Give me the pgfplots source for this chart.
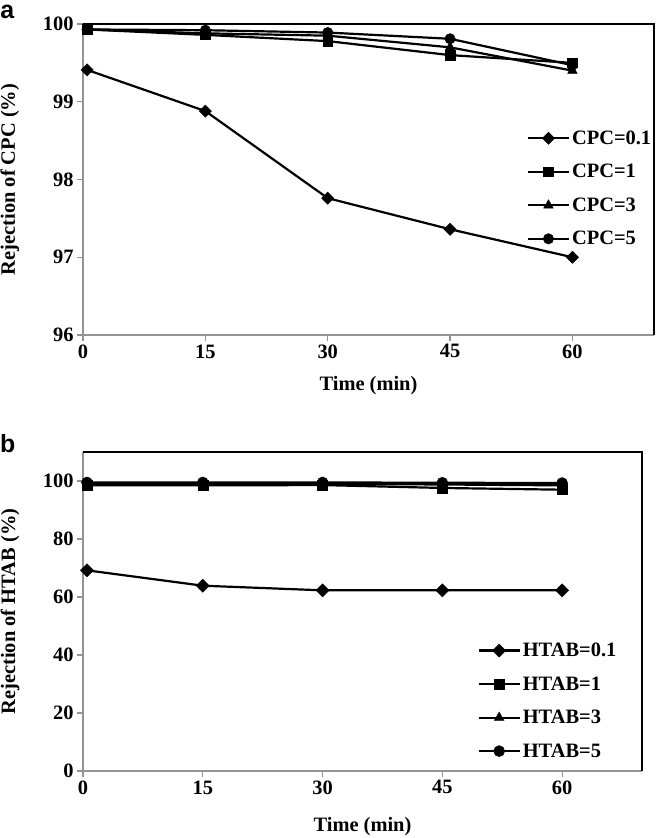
\documentclass[border=0pt]{standalone}
\usepackage{pgfplots}
\pgfplotsset{compat=1.18}
\usepackage{fontspec}
\setmainfont{Liberation Serif}
\newfontfamily\arialfont{Liberation Sans}

\pgfplotsset{
  panel/.style={
    scale only axis,
    xmin=0, xmax=70,
    xtick={0,15,30,45,60},
    axis x line*=bottom, axis y line*=left,
    axis line style={-, draw=gray!85, line width=1.4bp},
    tick align=outside,
    major tick length=6bp,
    tick style={draw=gray!85, line width=1.2bp},
    tick label style={font=\fontsize{20.5}{20.5}\selectfont\bfseries},
    label style={font=\fontsize{20.5}{20.5}\selectfont\bfseries},
    /pgf/number format/assume math mode=true,
    legend style={draw=none, fill=none, font=\fontsize{20.5}{20.5}\selectfont\bfseries,
      anchor=north west, inner sep=0pt, row sep=14.5bp,
      nodes={inner sep=2bp}},
    legend cell align=left,
    legend image code/.code={\draw[mark repeat=2,mark phase=2,line width=2.2bp,##1] plot coordinates {(0bp,0bp) (20.5bp,0bp) (41bp,0bp)};},
    clip=false,
    every axis plot/.append style={black, line width=2.2bp, mark options={solid, fill=black, line width=0.5bp}},
    dia/.style={mark=square*, mark options={rotate=45, solid, fill=black, line width=0.5bp}},
  },
}

\begin{document}
\begin{tikzpicture}
\path[use as bounding box] (0bp,0bp) rectangle (657bp,-838bp);

% ---------- panel a ----------
\begin{axis}[panel,
  at={(83bp,-335bp)}, anchor=south west,
  width=571bp, height=311bp,
  ymin=96, ymax=100, ytick={96,97,98,99,100},
  xlabel={Time (min)}, ylabel={Rejection of CPC (\%)},
  ylabel style={at={(axis description cs:-0.128,0.5)}, anchor=center},
  xlabel style={at={(axis description cs:0.5,-0.164)}, anchor=center},
  legend style={at={(axis description cs:0.777,0.664)}},
]
\addplot[dia, mark size=4.3bp] coordinates {(0.5,99.41) (15,98.88) (30,97.76) (45,97.36) (60,97.0)};
\addlegendentry{CPC=0.1}
\addplot[mark=square*, mark size=4.8bp] coordinates {(0.5,99.93) (15,99.86) (30,99.78) (45,99.6) (60,99.5)};
\addlegendentry{CPC=1}
\addplot[mark=triangle*, mark size=5.5bp] coordinates {(0.5,99.93) (15,99.88) (30,99.85) (45,99.7) (60,99.4)};
\addlegendentry{CPC=3}
\addplot[mark=*, mark size=5.2bp] coordinates {(0.5,99.93) (15,99.92) (30,99.89) (45,99.81) (60,99.47)};
\addlegendentry{CPC=5}
\draw[black, line width=2bp] (rel axis cs:0,1) -- (rel axis cs:1,1) -- (rel axis cs:1,0);
\node[font=\arialfont\bfseries\fontsize{25}{25}\selectfont, anchor=base west, inner sep=0pt] at (rel axis cs:-0.145,1.019) {a};
\end{axis}

% ---------- panel b ----------
\begin{axis}[panel,
  at={(83bp,-771bp)}, anchor=south west,
  width=559bp, height=319bp,
  ymin=0, ymax=110, ytick={0,20,40,60,80,100},
  xlabel={Time (min)}, ylabel={Rejection of HTAB (\%)},
  ylabel style={at={(axis description cs:-0.1306,0.5)}, anchor=center},
  xlabel style={at={(axis description cs:0.5,-0.175)}, anchor=center},
  legend style={at={(axis description cs:0.7055,0.408)}},
]
\addplot[dia, mark size=4.6bp] coordinates {(0.5,69.2) (15,63.9) (30,62.3) (45,62.3) (60,62.3)};
\addlegendentry{HTAB=0.1}
\addplot[mark=square*, mark size=5bp] coordinates {(0.5,98.5) (15,98.5) (30,98.6) (45,97.6) (60,97.0)};
\addlegendentry{HTAB=1}
\addplot[mark=triangle*, mark size=5.5bp] coordinates {(0.5,99) (15,99) (30,99) (45,98.8) (60,98.5)};
\addlegendentry{HTAB=3}
\addplot[mark=*, mark size=5.5bp] coordinates {(0.5,99.5) (15,99.5) (30,99.5) (45,99.4) (60,99.3)};
\addlegendentry{HTAB=5}
\draw[black, line width=1.4bp] (rel axis cs:0,1) -- (rel axis cs:1,1) -- (rel axis cs:1,0);
\node[font=\arialfont\bfseries\fontsize{25}{25}\selectfont, anchor=base west, inner sep=0pt] at (rel axis cs:-0.1485,0.997) {b};
\end{axis}
\end{tikzpicture}
\end{document}
